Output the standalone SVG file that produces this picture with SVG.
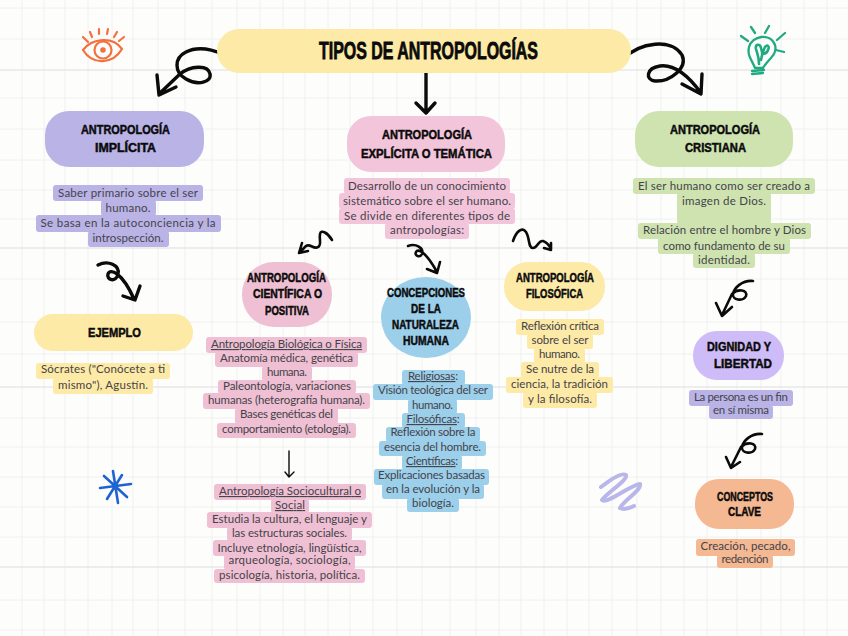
<svg xmlns="http://www.w3.org/2000/svg" width="848" height="636" viewBox="0 0 848 636">
<style>
.b{font-family:"Lato","Liberation Sans",sans-serif;font-size:11.5px;fill:#45434a;text-anchor:middle}
.h{font-family:"Liberation Sans",Arial,sans-serif;font-weight:700;font-size:13px;fill:#0b0b0b;stroke:#0b0b0b;stroke-width:.5px;text-anchor:middle}
.u{text-decoration:underline}
.c{fill:none;stroke:#0b0b0b;stroke-width:3.4;stroke-linecap:round;stroke-linejoin:round}
.m{stroke-width:2.6}
.t{stroke-width:1.4}
.yl{fill:#fdeaa6}.pu{fill:#b9b3e6}.pk{fill:#f3c5da}.rs{fill:#efc0d3}.gr{fill:#cee3b0}.bl{fill:#9ccfea}.vi{fill:#cdbcf8}.or{fill:#f4b892}
</style>
<rect width="848" height="636" fill="#fdfdfc"/>
<g id="grid" fill="none">
<path stroke="#f0f0ef" stroke-width="1" d="M22 0V636M44 0V636M65 0V636M88 0V636M112 0V636M133 0V636M158 0V636M185 0V636M212 0V636M237 0V636M260 0V636M283 0V636M305 0V636M328 0V636M350 0V636M373 0V636M397 0V636M422 0V636M450 0V636M476 0V636M499 0V636M521 0V636M544 0V636M567 0V636M589 0V636M612 0V636M637 0V636M661 0V636M684 0V636M707 0V636M737 0V636M761 0V636M781 0V636M804 0V636M827 0V636M0 8H848M0 39H848M0 98H848M0 129H848M0 160H848M0 190H848M0 219H848M0 279H848M0 322H848M0 354H848M0 418H848M0 447H848M0 477H848M0 507H848M0 537H848M0 600H848M0 630H848"/>
<path stroke="#e8e8e7" stroke-width="1.3" d="M0 70H848M0 248H848M0 387H848M0 567H848"/>
</g>
<g id="icon-eye" fill="none" stroke="#f4713e" stroke-width="2.2" stroke-linecap="round">
<path d="M83 50C92 38 113 36 122 49C113 64 93 66 83 50Z"/><circle cx="103" cy="50" r="8.500"/><circle cx="103" cy="50" r="2.800" fill="#f4713e" stroke="none"/>
<path d="M83 37L88 42M90 32L92 37M99 29V34M108 29L107 34M117 32L114 37M124 37L119 41"/>
</g>
<g id="icon-bulb" fill="none" stroke="#1faa80" stroke-width="2.3" stroke-linecap="round" stroke-linejoin="round">
<path d="M755 68C752 60 747 56 749 47C752 36 770 32 775 45C778 55 767 60 763 68Z"/><path d="M752 71L764 70M752 74L763 73"/>
<path d="M759 64C759 56 757 53 756 49C755 44 760 43 761 48M761 48L762 52M761 60C762 55 763 51 765 47C767 44 770 46 768 50C767 53 764 54 762 54" stroke-width="2.600"/>
<path d="M741 36L748 41M751 27L755 33M769 26L765 33M785 33L777 40M784 52L776 50"/>
</g>
<g id="icon-star" fill="none" stroke="#1f63d2" stroke-width="2.600" stroke-linecap="round">
<path d="M113 471L118 503M100 488L131 484M104 476L127 497M107 499L122 475"/>
</g>
<g id="icon-scribble" fill="none" stroke="#b9b6ea" stroke-width="4" stroke-linecap="round" stroke-linejoin="round">
<path d="M601 487C610 480 622 472 626 475C628 480 608 492 602 500C606 505 632 484 640 484C642 490 624 500 620 508C624 510 630 508 634 506"/>
</g>
<g id="connectors">
<path class="c" d="M237 64C222 50 200 45 186 52C174 58 174 72 186 79C198 86 212 82 210 74C208 64 190 66 180 74L159 94M157 75L159 95L176 87"/>
<path class="c" d="M623 59C640 42 672 38 682 55C688 68 670 82 655 81C645 80 646 68 660 66C675 64 690 78 701 93M682 84L701 94L702 74"/>
<path class="c" d="M426 73V112M416 103L426 113L435 103"/>
<path class="c" d="M98 265C108 260 120 265 118 274C116 283 106 280 108 274C110 268 122 272 134 299M123 296L135 300L140 286"/>
<path class="c m" d="M753 281C742 280 734 288 733 294C732 300 743 302 746 296C748 290 738 288 732 294L722 315M716 303L722 316L732 307"/>
<path class="c m" d="M762 434C751 433 743 441 742 447C741 453 752 455 755 449C757 443 747 441 741 447L731 467M726 457L731 468L740 462"/>
<path class="c m" d="M332 240C328 233 321 229 320 234C319 240 322 245 318 247C314 250 310 243 306 246L300 252M302 243L299 253L308 251"/>
<path class="c m" d="M408 246C416 243 424 248 422 254C420 258 414 256 416 252C418 248 426 252 437 272M427 269L437 273L440 262"/>
<path class="c m" d="M513 241C516 232 522 226 526 232C530 238 528 248 533 248C538 248 538 240 543 241C546 242 549 245 551 249M551 243L551 250L544 248"/>
<path class="c t" d="M289 451V476M285 472L289 477L294 472"/>
</g>
<g id="node-title"><rect x="217" y="29" width="414" height="44" rx="22" class="yl"/>
<text x="428.500" y="59" class="h" style="font-size:23px;stroke-width:.8px" textLength="219" lengthAdjust="spacingAndGlyphs">TIPOS DE ANTROPOLOGÍAS</text></g>
<g id="node-implicita"><rect x="45" y="111" width="159" height="56" rx="24" class="pu"/>
<text x="125.500" y="134" class="h" textLength="89" lengthAdjust="spacingAndGlyphs">ANTROPOLOGÍA</text>
<text x="125.500" y="152" class="h" textLength="61" lengthAdjust="spacingAndGlyphs">IMPLÍCITA</text>
<g class="pu"><rect x="53" y="185" width="150" height="16" rx="3"/><rect x="101" y="200" width="55" height="16" rx="3"/><rect x="36" y="215" width="185" height="17" rx="3"/><rect x="88" y="231" width="81" height="16" rx="3"/></g>
<text x="128" y="197" class="b" textLength="140">Saber primario sobre el ser</text>
<text x="128" y="212" class="b" textLength="45">humano.</text>
<text x="128" y="227" class="b" textLength="175">Se basa en la autoconciencia y la</text>
<text x="128" y="242" class="b" textLength="71">introspección.</text></g>
<g id="node-explicita"><rect x="347" y="116" width="158" height="56" rx="24" class="pk"/>
<text x="427" y="139" class="h" textLength="90" lengthAdjust="spacingAndGlyphs">ANTROPOLOGÍA</text>
<text x="426.500" y="158" class="h" textLength="131" lengthAdjust="spacingAndGlyphs">EXPLÍCITA O TEMÁTICA</text>
<g class="pk"><rect x="344" y="178" width="166" height="16" rx="3"/><rect x="339" y="193" width="176" height="16" rx="3"/><rect x="339" y="208" width="176" height="16" rx="3"/><rect x="385" y="223" width="84" height="16" rx="3"/></g>
<text x="427" y="190" class="b" textLength="158">Desarrollo de un conocimiento</text>
<text x="427" y="205" class="b" textLength="168">sistemático sobre el ser humano.</text>
<text x="427" y="220" class="b" textLength="166">Se divide en diferentes tipos de</text>
<text x="427" y="234" class="b" textLength="74">antropologías:</text></g>
<g id="node-cristiana"><rect x="635" y="111" width="158" height="56" rx="24" class="gr"/>
<text x="715" y="134" class="h" textLength="90" lengthAdjust="spacingAndGlyphs">ANTROPOLOGÍA</text>
<text x="715.500" y="152" class="h" textLength="61" lengthAdjust="spacingAndGlyphs">CRISTIANA</text>
<g class="gr"><rect x="633" y="178" width="182" height="16" rx="3"/><rect x="677" y="193" width="94" height="31" rx="3"/><rect x="638" y="223" width="173" height="16" rx="3"/><rect x="658" y="238" width="132" height="16" rx="3"/><rect x="693" y="253" width="62" height="15" rx="3"/></g>
<text x="724" y="190" class="b" textLength="172">El ser humano como ser creado a</text>
<text x="724" y="205" class="b" textLength="84">imagen de Dios.</text>
<text x="724.500" y="234" class="b" textLength="163">Relación entre el hombre y Dios</text>
<text x="724" y="250" class="b" textLength="122">como fundamento de su</text>
<text x="724" y="264" class="b" textLength="52">identidad.</text></g>
<g id="node-ejemplo"><rect x="34" y="314" width="159" height="37" rx="18.500" class="yl"/>
<text x="114.500" y="337" class="h" textLength="53" lengthAdjust="spacingAndGlyphs">EJEMPLO</text>
<g class="yl"><rect x="36" y="363" width="134" height="16" rx="3"/><rect x="53" y="378" width="100" height="16" rx="3"/></g>
<text x="103" y="373" class="b" textLength="124">Sócrates ("Conócete a ti</text>
<text x="103" y="389" class="b" textLength="90">mismo"), Agustín.</text></g>
<g id="node-cientifica"><rect x="242" y="262" width="90" height="65" rx="32" class="rs"/>
<text x="286.500" y="282" class="h" textLength="79" lengthAdjust="spacingAndGlyphs">ANTROPOLOGÍA</text>
<text x="287.500" y="298" class="h" textLength="69" lengthAdjust="spacingAndGlyphs">CIENTÍFICA O</text>
<text x="287" y="315" class="h" textLength="44" lengthAdjust="spacingAndGlyphs">POSITIVA</text>
<g class="rs"><rect x="206" y="337" width="161" height="16" rx="3"/><rect x="215" y="352" width="143" height="15" rx="3"/><rect x="262" y="366" width="50" height="15" rx="3"/><rect x="218" y="380" width="138" height="14" rx="3"/><rect x="203" y="393" width="167" height="16" rx="3"/><rect x="235" y="408" width="103" height="16" rx="3"/><rect x="217" y="423" width="139" height="15" rx="3"/></g>
<text x="286.500" y="348" class="b" textLength="151"><tspan class="u">Antropología Biológica o Física</tspan></text>
<text x="286.500" y="362" class="b" textLength="133">Anatomía médica, genética</text>
<text x="287" y="376" class="b" textLength="40">humana.</text>
<text x="287" y="390" class="b" textLength="128">Paleontología, variaciones</text>
<text x="286.500" y="404" class="b" textLength="157">humanas (heterografía humana).</text>
<text x="286.500" y="418" class="b" textLength="93">Bases genéticas del</text>
<text x="286.500" y="433" class="b" textLength="129">comportamiento (etología).</text></g>
<g id="node-sociocultural">
<g class="rs"><rect x="214" y="484" width="152" height="16" rx="3"/><rect x="271" y="499" width="38" height="14" rx="3"/><rect x="207" y="512" width="165" height="16" rx="3"/><rect x="227" y="527" width="125" height="14" rx="3"/><rect x="213" y="540" width="153" height="16" rx="3"/><rect x="224" y="555" width="131" height="15" rx="3"/><rect x="214" y="569" width="151" height="14" rx="3"/></g>
<text x="290" y="495" class="b" textLength="142"><tspan class="u">Antropología Sociocultural o</tspan></text>
<text x="290" y="509" class="b" textLength="30"><tspan class="u">Social</tspan></text>
<text x="289.500" y="523" class="b" textLength="155">Estudia la cultura, el lenguaje y</text>
<text x="289.500" y="537" class="b" textLength="115">las estructuras sociales.</text>
<text x="289.500" y="552" class="b" textLength="144">Incluye etnología, lingüística,</text>
<text x="289.500" y="564" class="b" textLength="122">arqueología, sociología,</text>
<text x="289.500" y="579" class="b" textLength="141">psicología, historia, política.</text></g>
<g id="node-concepciones"><rect x="381" y="277" width="90" height="81" rx="45" class="bl"/>
<text x="426" y="297" class="h" textLength="78" lengthAdjust="spacingAndGlyphs">CONCEPCIONES</text>
<text x="426" y="313" class="h" textLength="30" lengthAdjust="spacingAndGlyphs">DE LA</text>
<text x="425.500" y="329" class="h" textLength="67" lengthAdjust="spacingAndGlyphs">NATURALEZA</text>
<text x="426" y="345" class="h" textLength="46" lengthAdjust="spacingAndGlyphs">HUMANA</text>
<g class="bl"><rect x="402" y="370" width="63" height="15" rx="3"/><rect x="373" y="384" width="120" height="16" rx="3"/><rect x="408" y="399" width="49" height="15" rx="3"/><rect x="402" y="413" width="63" height="15" rx="3"/><rect x="386" y="427" width="94" height="15" rx="3"/><rect x="379" y="441" width="107" height="15" rx="3"/><rect x="402" y="455" width="60" height="15" rx="3"/><rect x="374" y="469" width="115" height="16" rx="3"/><rect x="382" y="484" width="102" height="15" rx="3"/><rect x="407" y="498" width="52" height="14" rx="3"/></g>
<text x="433" y="380" class="b" textLength="50"><tspan class="u">Religiosas</tspan>:</text>
<text x="433" y="394" class="b" textLength="110">Visión teológica del ser</text>
<text x="432.500" y="409" class="b" textLength="41">humano.</text>
<text x="433" y="423" class="b" textLength="53"><tspan class="u">Filosóficas</tspan>:</text>
<text x="433" y="436" class="b" textLength="85">Reflexión sobre la</text>
<text x="432.500" y="451" class="b" textLength="97">esencia del hombre.</text>
<text x="432" y="465" class="b" textLength="52"><tspan class="u">Científicas</tspan>:</text>
<text x="431.500" y="479" class="b" textLength="107">Explicaciones basadas</text>
<text x="433" y="493" class="b" textLength="94">en la evolución y la</text>
<text x="433" y="507" class="b" textLength="42">biología.</text></g>
<g id="node-filosofica"><rect x="504" y="262" width="101" height="49" rx="24" class="yl"/>
<text x="555" y="282" class="h" textLength="78" lengthAdjust="spacingAndGlyphs">ANTROPOLOGÍA</text>
<text x="554.500" y="298" class="h" textLength="57" lengthAdjust="spacingAndGlyphs">FILOSÓFICA</text>
<g class="yl"><rect x="516" y="319" width="88" height="16" rx="3"/><rect x="527" y="334" width="66" height="15" rx="3"/><rect x="534" y="348" width="51" height="15" rx="3"/><rect x="521" y="362" width="78" height="16" rx="3"/><rect x="506" y="377" width="107" height="16" rx="3"/><rect x="523" y="392" width="74" height="16" rx="3"/></g>
<text x="560" y="330" class="b" textLength="78">Reflexión crítica</text>
<text x="560" y="344" class="b" textLength="57">sobre el ser</text>
<text x="559.500" y="358" class="b" textLength="41">humano.</text>
<text x="560" y="373" class="b" textLength="68">Se nutre de la</text>
<text x="559.500" y="388" class="b" textLength="97">ciencia, la tradición</text>
<text x="560" y="403" class="b" textLength="64">y la filosofía.</text></g>
<g id="node-dignidad"><rect x="693" y="331" width="91" height="49" rx="24" class="vi"/>
<text x="739" y="351" class="h" textLength="64" lengthAdjust="spacingAndGlyphs">DIGNIDAD Y</text>
<text x="743" y="368" class="h" textLength="58" lengthAdjust="spacingAndGlyphs">LIBERTAD</text>
<g class="pu"><rect x="689" y="390" width="104" height="16" rx="3"/><rect x="709" y="405" width="64" height="14" rx="3"/></g>
<text x="741" y="401" class="b" textLength="94">La persona es un fin</text>
<text x="741" y="414" class="b" textLength="56">en sí misma</text></g>
<g id="node-conceptos"><rect x="695" y="479" width="99" height="50" rx="24" class="or"/>
<text x="745" y="501" class="h" textLength="56" lengthAdjust="spacingAndGlyphs">CONCEPTOS</text>
<text x="744.500" y="516" class="h" textLength="33" lengthAdjust="spacingAndGlyphs">CLAVE</text>
<g class="or"><rect x="696" y="539" width="99" height="17" rx="3"/><rect x="717" y="555" width="56" height="13" rx="3"/></g>
<text x="745.500" y="550" class="b" textLength="90">Creación, pecado,</text>
<text x="745" y="563" class="b" textLength="47">redención</text></g>
</svg>
